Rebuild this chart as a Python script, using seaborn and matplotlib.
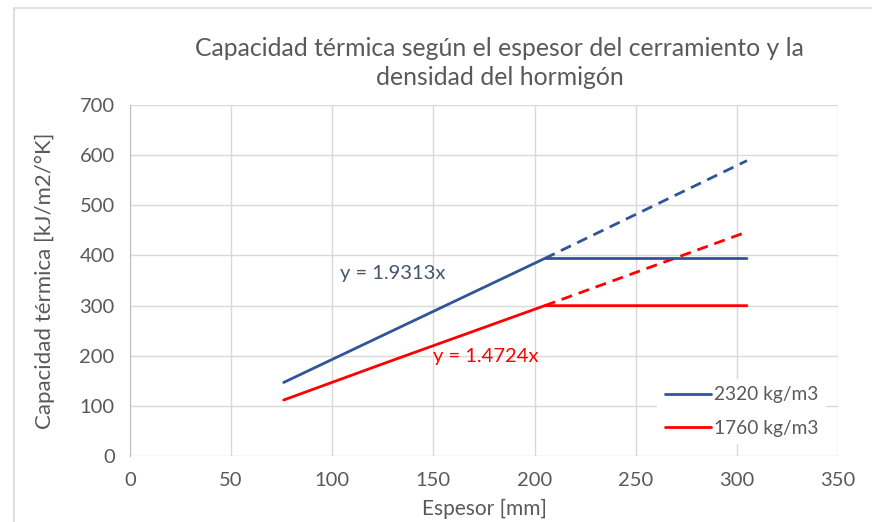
import matplotlib.pyplot as plt
import matplotlib.patches as mpatches
import pandas as pd
import seaborn as sns

# datos
x_2320 = [76, 205, 305]
y_2320 = [147, 394, 394]
x_1760 = [76, 127, 205, 305]
y_1760 = [112, 187, 300, 300]
# líneas de tendencia (discontinuas)
x_trend = [205, 305]
trend_2320 = [394, 589]
trend_1760 = [300, 447]
series_labels = ["2320 kg/m3", "1760 kg/m3"]
eq_labels = ["y = 1.9313x", "y = 1.4724x"]

C_BLUE = "#2F5597"
C_RED = "#FF0000"
C_GREY = "#595959"

sns.set_style("white")
plt.rcParams['font.family'] = ['Lato', 'DejaVu Sans']

df = pd.concat([
    pd.DataFrame({"x": x_2320, "y": y_2320, "serie": series_labels[0]}),
    pd.DataFrame({"x": x_1760, "y": y_1760, "serie": series_labels[1]}),
])
df_trend = pd.concat([
    pd.DataFrame({"x": x_trend, "y": trend_2320, "serie": series_labels[0]}),
    pd.DataFrame({"x": x_trend, "y": trend_1760, "serie": series_labels[1]}),
])
palette = {series_labels[0]: C_BLUE, series_labels[1]: C_RED}

fig = plt.figure(figsize=(8.72, 5.22), dpi=100)
ax = fig.add_axes([0.149, 0.126, 0.812, 0.673])

sns.lineplot(data=df_trend, x="x", y="y", hue="serie", palette=palette,
             linewidth=2.0, dashes=False, linestyle=(0, (4, 2.5)), legend=False,
             ax=ax, estimator=None, sort=False)
sns.lineplot(data=df, x="x", y="y", hue="serie", palette=palette,
             linewidth=2.0, ax=ax, estimator=None, sort=False)

# ecuaciones de las líneas de tendencia
ax.text(130, 364, eq_labels[0], color="#44546A", fontsize=14.5, ha="center", va="center")
ax.text(176, 199, eq_labels[1], color=C_RED, fontsize=14.5, ha="center", va="center")

ax.set_xlim(0, 350)
ax.set_ylim(0, 700)
ax.set_xticks(range(0, 351, 50))
ax.set_yticks(range(0, 701, 100))
ax.grid(True, color="#D9D9D9", linewidth=1.0)
ax.set_axisbelow(True)
for s in ["top", "right", "bottom"]:
    ax.spines[s].set_visible(False)
ax.spines["left"].set_color("#BFBFBF")
ax.tick_params(axis="both", colors=C_GREY, labelsize=14.5, length=0, pad=11)
ax.set_xlabel("Espesor [mm]", fontsize=15, color=C_GREY)
ax.set_ylabel("Capacidad térmica [kJ/m2/°K]", fontsize=16, color=C_GREY)
ax.xaxis.set_label_coords(0.5, -0.122)
ax.yaxis.set_label_coords(-0.106, 0.5)

fig.text(0.573, 0.879, "Capacidad térmica según el espesor del cerramiento y la\ndensidad del hormigón",
         ha="center", va="center", fontsize=17.8, color=C_GREY, linespacing=1.33)

leg = ax.legend(loc="center left", bbox_to_anchor=(0.745, 0.127), frameon=True,
                facecolor="white", edgecolor="none", framealpha=1,
                fontsize=13.8, handlelength=2.4, handletextpad=0.15,
                labelspacing=0.85, borderpad=0.4, borderaxespad=0)
for t in leg.get_texts():
    t.set_color(C_GREY)

# borde del área del gráfico
fig.patches.append(mpatches.Rectangle((0.016, -0.05), 1.0, 1.035, transform=fig.transFigure,
                                      fill=False, edgecolor="#D9D9D9", linewidth=1.2))

fig.savefig("out.png", dpi=100)
